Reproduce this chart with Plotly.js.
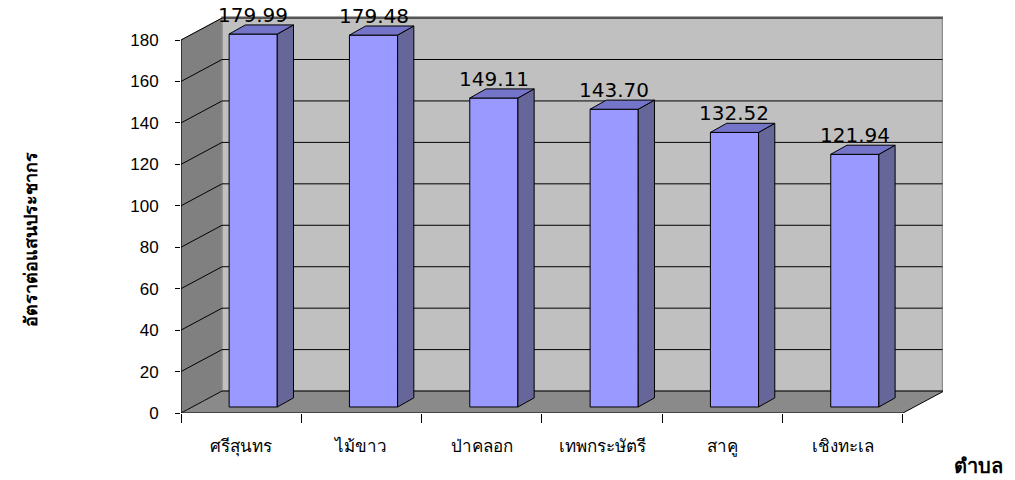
<!DOCTYPE html>
<html>
<head>
<meta charset="utf-8">
<script src="https://cdn.plot.ly/plotly-3.0.1.min.js"></script>
<style>html,body{margin:0;padding:0;background:#fff;}#chart{width:1015px;height:480px;}</style>
</head>
<body>
<div id="chart"></div>
<script>
// ---- data ----
const categories = ['ศรีสุนทร', 'ไม้ขาว', 'ป่าคลอก', 'เทพกระษัตรี', 'สาคู', 'เชิงทะเล'];
const values = [179.99, 179.48, 149.11, 143.70, 132.52, 121.94];
const yTicks = [0, 20, 40, 60, 80, 100, 120, 140, 160, 180];
const yTitle = 'อัตราต่อแสนประชากร';
const xTitle = 'ตำบล';

// ---- pseudo-3D geometry (in axis units) ----
const X0 = -0.5, XMAX = 5.833, YMAX = 191.6;
const WDX = 0.341, WDY = 10.6;      // wall depth
const BSHIFT = 0.1, BBASE = 2.9;    // bar front-face offset
const BW = 0.4, BDX = 0.135, BDY = 4.4; // bar width and depth
const xc = categories.map((c, i) => i);

const shapes = [];
// side wall
shapes.push({type:'path', xref:'x', yref:'y', layer:'below',
  path:`M${X0},0 L${X0},180 L${X0+WDX},${180+WDY} L${X0+WDX},${WDY} Z`,
  fillcolor:'#808080', line:{color:'#808080', width:1}});
// back wall
shapes.push({type:'rect', xref:'x', yref:'y', layer:'below',
  x0:X0+WDX, x1:XMAX-0.004, y0:WDY, y1:YMAX-0.5,
  fillcolor:'#C0C0C0', line:{color:'#8c8c8c', width:1.5}});
// floor
const xEnd = X0 + categories.length;
shapes.push({type:'path', xref:'x', yref:'y', layer:'below',
  path:`M${X0},0 L${xEnd},0 L${xEnd+WDX},${WDY} L${X0+WDX},${WDY} Z`,
  fillcolor:'#8a8a8a', line:{color:'#000000', width:1}});
// hidden edge dashed
shapes.push({type:'line', xref:'x', yref:'y', layer:'below',
  x0:X0, y0:0, x1:X0+WDX, y1:WDY, line:{color:'#333', width:1, dash:'dot'}});
// gridlines
yTicks.filter(v => v > 0).forEach(v => {
  shapes.push({type:'line', xref:'x', yref:'y', layer:'below',
    x0:X0+WDX, x1:XMAX-0.004, y0:v+WDY, y1:v+WDY, line:{color:'#000', width:1}});
  shapes.push({type:'line', xref:'x', yref:'y', layer:'below',
    x0:X0, x1:X0+WDX, y0:v, y1:v+WDY, line:{color:'#000', width:1}});
});
// front y axis line
shapes.push({type:'line', xref:'x', yref:'y', x0:X0, x1:X0, y0:0, y1:180,
  line:{color:'#000', width:1.2}});

// bar faces
const fx = xc.map(x => x + BSHIFT);
const sideX = [], sideY = [], topX = [], topY = [];
fx.forEach((x, i) => {
  const r = x + BW/2, l = x - BW/2, t = BBASE + values[i];
  sideX.push(r, r+BDX, r+BDX, r, r, null);
  sideY.push(BBASE, BBASE+BDY, t+BDY, t, BBASE, null);
  topX.push(l, r, r+BDX, l+BDX, l, null);
  topY.push(t, t, t+BDY, t+BDY, t, null);
});

const traces = [
  {type:'bar', x:fx, y:values, base:BBASE, width:BW,
   marker:{color:'#9999FF', line:{color:'#000', width:1}}, hoverinfo:'skip'},
  {type:'scatter', mode:'lines', x:sideX, y:sideY, fill:'toself', fillcolor:'#666699',
   line:{color:'#000', width:1}, hoverinfo:'skip', connectgaps:false},
  {type:'scatter', mode:'lines', x:topX, y:topY, fill:'toself', fillcolor:'#7474C8',
   line:{color:'#000', width:1}, hoverinfo:'skip', connectgaps:false}
];

const annotations = values.map((v, i) => ({
  x: fx[i] + 0.0, y: BBASE + v + BDY, xref:'x', yref:'y', yanchor:'bottom',
  text: v.toFixed(2), showarrow:false, yshift:-4,
  font:{family:'DejaVu Sans, Arial', size:20, color:'#000'}
}));
annotations.push({xref:'paper', yref:'paper', x:(30-181)/762, y:(413-240)/397,
  text:yTitle, textangle:-90, showarrow:false, xanchor:'center', yanchor:'middle',
  font:{family:'DejaVu Serif, Noto Sans', size:18, color:'#000', weight:'bold'}});
annotations.push({xref:'paper', yref:'paper', x:(978-181)/762, y:(413-466)/397,
  text:'<b>'+xTitle+'</b>', showarrow:false, xanchor:'center', yanchor:'middle',
  font:{family:'DejaVu Serif, Noto Sans', size:20, color:'#000'}});

const layout = {
  width:1015, height:480,
  margin:{l:181, r:72, t:16, b:67, pad:0},
  paper_bgcolor:'#fff', plot_bgcolor:'rgba(0,0,0,0)',
  showlegend:false,
  xaxis:{range:[X0, XMAX], tickmode:'array', tickvals:xc, ticktext:categories,
    ticks:'', showgrid:false, zeroline:false, showline:false,
    ticklabelstandoff:21,
    minor:{tickmode:'array', tickvals:xc.map(x => x - 0.5).concat([xEnd]), ticks:'outside', ticklen:9, tickcolor:'#000', tickwidth:1, showgrid:false},
    tickfont:{family:'Noto Sans, DejaVu Sans', size:17, color:'#000'}},
  yaxis:{range:[0, YMAX], tickmode:'array', tickvals:yTicks, ticks:'outside', ticklen:5,
    tickcolor:'#000', showgrid:false, zeroline:false, showline:false,
    ticklabelstandoff:13,
    tickfont:{family:'Liberation Sans, Arial', size:17, color:'#000'}},
  shapes:shapes, annotations:annotations, bargap:0
};

Plotly.newPlot('chart', traces, layout, {displayModeBar:false, staticPlot:true});
</script>
</body>
</html>
